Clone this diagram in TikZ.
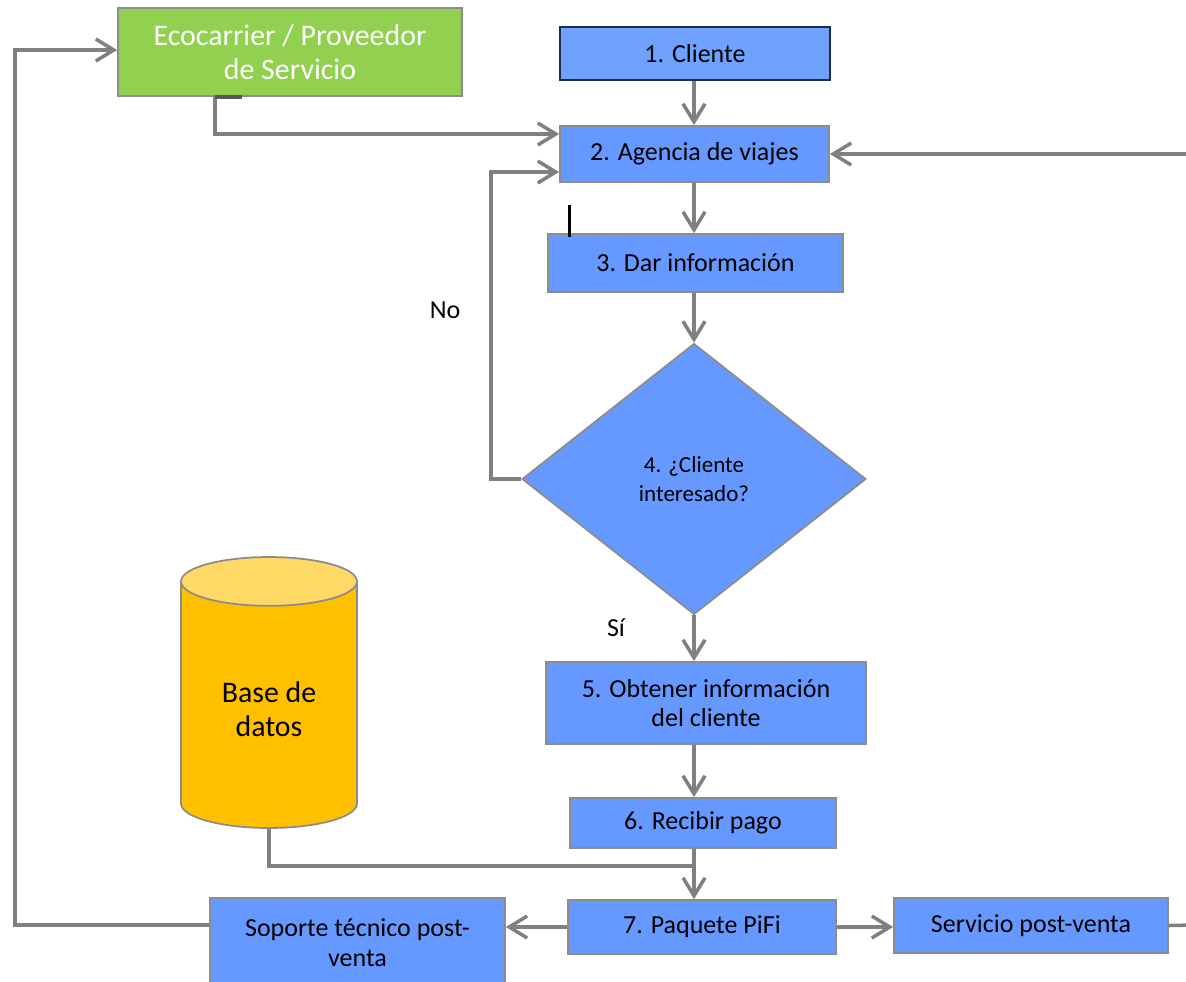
\documentclass[tikz,border=0pt]{standalone}
\usepackage{fontspec}
\setmainfont{Carlito}
\usepackage{tikz}
\usetikzlibrary{shapes.geometric,arrows.meta,calc}
\definecolor{boxblue}{HTML}{6699FF}
\definecolor{cliblue}{HTML}{6FA2FF}
\definecolor{ecogreen}{HTML}{92D050}
\definecolor{dbbody}{HTML}{FFC000}
\definecolor{dbtop}{HTML}{FFD966}
\definecolor{linegray}{HTML}{808080}
\definecolor{boxgray}{HTML}{8C8C8C}
\definecolor{clinavy}{HTML}{1F2D4D}
\newcommand{\boxfont}{\fontsize{14.8}{17}\selectfont}
\newcommand{\bigfont}{\fontsize{17}{19.4}\selectfont}
\newcommand{\decfont}{\fontsize{13.1}{16.5}\selectfont}
\tikzset{
  procbox/.style={ draw=boxgray, fill=boxblue, line width=1pt, inner sep=0pt, align=center, font=\boxfont }
}
\tikzset{
  ecobox/.style={ draw=boxgray, fill=ecogreen, line width=1pt, inner sep=0pt, align=center, text=white, font=\bigfont }
}
\tikzset{
  decbox/.style={ diamond, draw=boxgray, fill=boxblue, line width=1pt, inner sep=0pt, align=center, font=\decfont }
}
\tikzset{
  dbshape/.style={ cylinder, shape border rotate=90, aspect=0.46, anchor=shape center, draw=boxgray, line width=1pt,
    cylinder uses custom fill, cylinder body fill=dbbody, cylinder end fill=dbtop, align=center, font=\bigfont }
}
\tikzset{
  flowline/.style={ draw=linegray, line width=2pt }
}
\tikzset{
  flow/.style={ flowline, -{Straight Barb[length=3.6mm, width=4.4mm]} }
}

\begin{document}
\begin{tikzpicture}[x=0.02cm, y=-0.02cm]
      \useasboundingbox (0,0) rectangle (1186,981);
      % boxes
      \node[ecobox, minimum width=6.88cm, minimum height=1.76cm] (eco) at (290, 52) {Ecocarrier / Proveedor\\de Servicio};
      \node[procbox, draw=clinavy, fill=cliblue, minimum width=5.4cm, minimum height=1.06cm] (cli) at (695, 53.5) {1. Cliente};
      \node[procbox, minimum width=5.38cm, minimum height=1.12cm] (agen) at (694.5, 154) {2. Agencia de viajes};
      \node[procbox, minimum width=5.9cm, minimum height=1.16cm] (dar) at (695.5, 263) {3. Dar información};
      \node[decbox, minimum width=6.88cm, minimum height=5.42cm] (dec) at (694, 479) {4. ¿Cliente\\interesado?};
      \node[procbox, minimum width=6.4cm, minimum height=1.64cm] (obt) at (706, 703) {5. Obtener información\\del cliente};
      \node[procbox, minimum width=5.32cm, minimum height=1.0cm] (pago) at (703, 823) {6. Recibir pago};
      \node[procbox, minimum width=5.36cm, minimum height=1.08cm] (paq) at (702, 927) {7. Paquete PiFi};
      \node[procbox, minimum width=5.9cm, minimum height=1.8cm] (sop) at (357.5, 943) {Soporte técnico post-\\venta};
      \node[procbox, minimum width=5.48cm, minimum height=1.1cm] (serv) at (1031, 925.5) {Servicio post-venta};
      \node[dbshape, minimum width=3.52cm, minimum height=5.42cm] (db) at (269, 692.5) {Base de\\datos};
      \node[font=\boxfont] (lblno) at (445, 310) {No};
      \node[font=\boxfont] (lblsi) at (616, 628) {Sí};
      \coordinate (noturn) at (491, 479);
      \coordinate (join) at (694, 866);
      \coordinate (rgt) at (1195, 925);
      \coordinate (lft) at (15, 925);
      % main column
      \draw[flow] (cli.south -| dec) -- (agen.north -| dec);
      \draw[flow] (agen.south -| dec) -- (dar.north -| dec);
      \draw[flow] (dar.south -| dec) -- (dec.north);
      \draw[flow] (dec.south) -- (obt.north -| dec);
      \draw[flow] (obt.south -| dec) -- (pago.north -| dec);
      \draw[flow] (pago.south -| dec) -- (paq.north -| dec);
      \draw[flowline] (db.south) |- (join);
      % loops
      \draw[flow] ($(eco.south west)+(98,0)$) |- ($(agen.west)+(0,-20)$);
      \draw[flow] (dec.west) -- (noturn) |- ($(agen.west)+(0,18)$);
      \draw[flow] (paq.west) -- (paq.west -| sop.east);
      \draw[flow] (paq.east) -- (paq.east -| serv.west);
      \draw[flow] (serv.east) -- (rgt) |- (agen.east);
      \draw[flow] ($(sop.west)+(0,-18)$) -- (lft) |- ($(eco.west)+(0,-2)$);
      \draw[draw=gray!70!black, line width=2.2pt] ($(eco.south west)+(98,0)$) -- +(27,0);
      \draw[black, line width=1.7pt] (569, 205) -- (569, 237);
    \end{tikzpicture}
\end{document}
